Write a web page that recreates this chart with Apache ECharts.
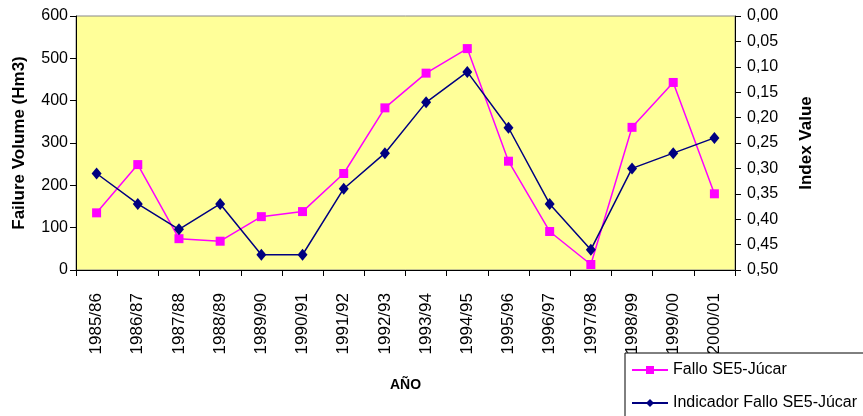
<!DOCTYPE html>
<html>
<head>
<meta charset="utf-8">
<script src="https://cdn.jsdelivr.net/npm/echarts@6/dist/echarts.min.js"></script>
<style>
  html, body { margin: 0; padding: 0; background: #ffffff; }
  #chart { width: 863px; height: 416px; }
</style>
</head>
<body>
<div id="chart"></div>
<script>
// Hydrological years
const years = ['1985/86', '1986/87', '1987/88', '1988/89', '1989/90', '1990/91', '1991/92', '1992/93',
  '1993/94', '1994/95', '1995/96', '1996/97', '1997/98', '1998/99', '1999/00', '2000/01'];

// Failure volume (Hm3), left axis
const falloVolume = [135, 249, 74, 68, 126, 138, 228, 383, 465, 523, 257, 91, 13, 337, 443, 180];

// Failure indicator (index value), right axis, inverted
const indicadorFallo = [0.31, 0.37, 0.42, 0.37, 0.47, 0.47, 0.34, 0.27, 0.17, 0.11, 0.22, 0.37, 0.46, 0.30, 0.27, 0.24];

const seriesNames = ['Fallo SE5-Júcar', 'Indicador Fallo SE5-Júcar'];

const font = 'Liberation Sans, Arial, sans-serif';
const chart = echarts.init(document.getElementById('chart'), null, { renderer: 'canvas' });

chart.setOption({
  backgroundColor: '#ffffff',
  animation: false,
  grid: {
    left: 76, right: 128, top: 16, bottom: 146,
    show: true,
    backgroundColor: '#FFFF99',
    borderColor: '#888888',
    borderWidth: 1
  },
  legend: {
    orient: 'vertical',
    left: 625,
    top: 353,
    width: 300,
    height: 90,
    padding: [9, 40, 8, 6],
    itemGap: 17,
    itemWidth: 36,
    itemHeight: 10,
    backgroundColor: '#ffffff',
    borderColor: '#000000',
    borderWidth: 1,
    borderRadius: 0,
    textStyle: { fontFamily: font, fontSize: 16, color: '#000' },
    data: seriesNames,
    z: 10
  },
  xAxis: {
    type: 'category',
    data: years,
    boundaryGap: true,
    name: 'AÑO',
    nameLocation: 'middle',
    nameGap: 108,
    nameTextStyle: { fontFamily: font, fontSize: 14, fontWeight: 'bold', color: '#000' },
    axisLine: { lineStyle: { color: '#000', width: 1 } },
    axisTick: { show: true, interval: 0, length: 6, lineStyle: { color: '#000' } },
    axisLabel: { rotate: 90, interval: 0, margin: 23, fontFamily: font, fontSize: 17, color: '#000' },
    splitLine: { show: false }
  },
  yAxis: [
    {
      type: 'value',
      min: 0, max: 600, interval: 100,
      name: 'Failure Volume (Hm3)',
      nameLocation: 'middle',
      nameGap: 48,
      nameTextStyle: { fontFamily: font, fontSize: 17, fontWeight: 'bold', color: '#000' },
      axisLine: { show: true, lineStyle: { color: '#000' } },
      axisTick: { show: true, length: 6, lineStyle: { color: '#000' } },
      axisLabel: { fontFamily: font, fontSize: 16, color: '#000', margin: 8 },
      splitLine: { show: false }
    },
    {
      type: 'value',
      inverse: true,
      min: 0, max: 0.5, interval: 0.05,
      position: 'right',
      name: 'Index Value',
      nameLocation: 'middle',
      nameRotate: 90,
      nameGap: 63,
      nameTextStyle: { fontFamily: font, fontSize: 17, fontWeight: 'bold', color: '#000' },
      axisLine: { show: true, lineStyle: { color: '#000' } },
      axisTick: { show: true, length: 6, lineStyle: { color: '#000' } },
      axisLabel: {
        fontFamily: font, fontSize: 16, color: '#000', margin: 12,
        formatter: v => v.toFixed(2).replace('.', ',')
      },
      splitLine: { show: false }
    }
  ],
  series: [
    {
      name: seriesNames[0],
      type: 'line',
      yAxisIndex: 0,
      data: falloVolume,
      symbol: 'rect',
      symbolSize: 9,
      color: '#FF00FF',
      lineStyle: { color: '#FF00FF', width: 1.5 },
      itemStyle: { color: '#FF00FF' }
    },
    {
      name: seriesNames[1],
      type: 'line',
      yAxisIndex: 1,
      data: indicadorFallo,
      symbol: 'diamond',
      symbolSize: [10, 12],
      color: '#000080',
      lineStyle: { color: '#000080', width: 1.5 },
      itemStyle: { color: '#000080' }
    }
  ]
});
</script>
</body>
</html>
